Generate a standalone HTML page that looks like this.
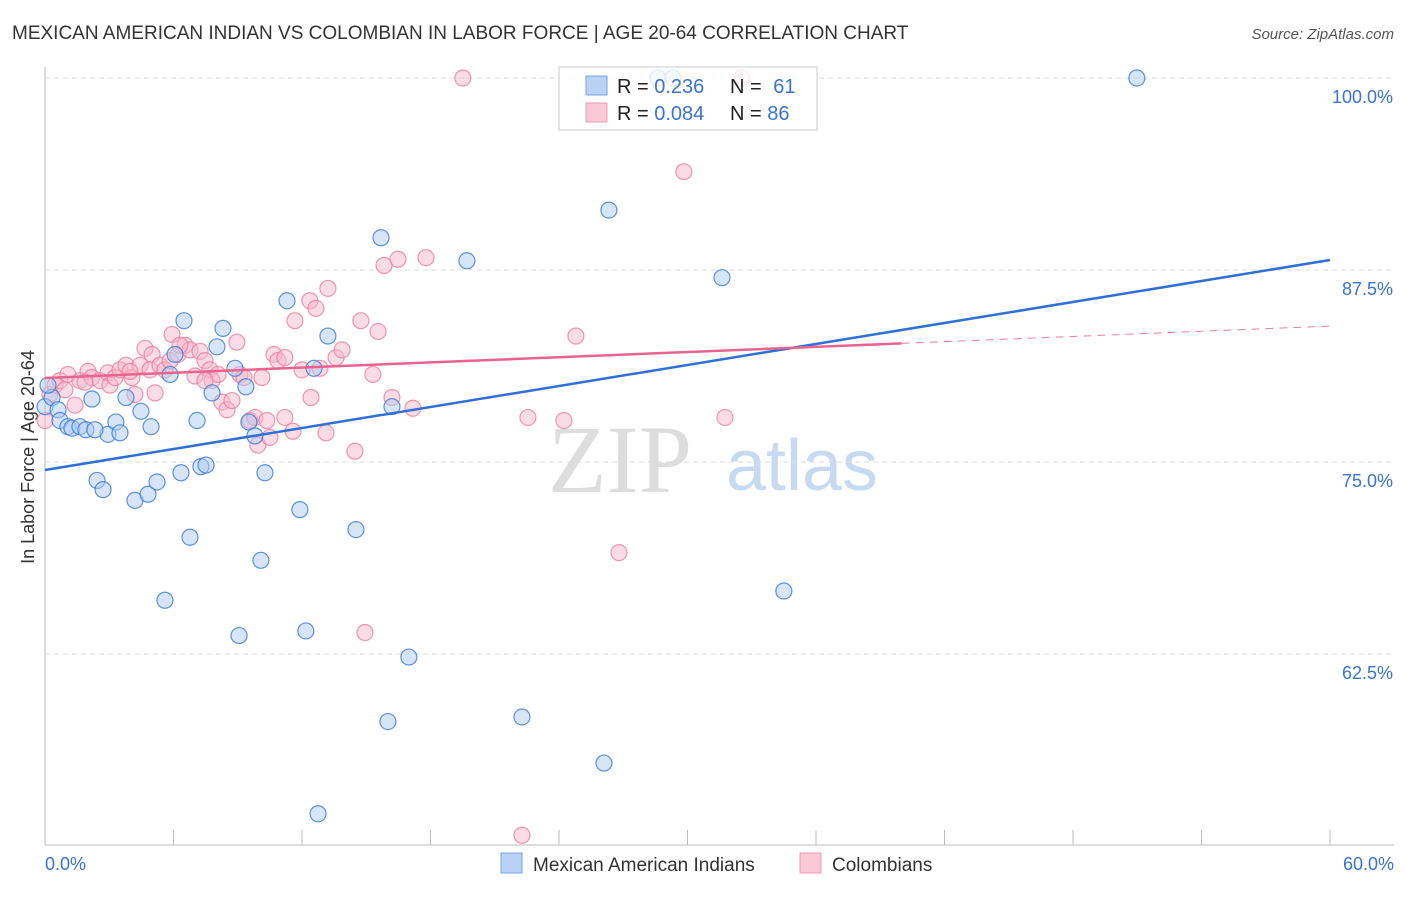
<!DOCTYPE html>
<html><head><meta charset="utf-8"><style>
body{margin:0;background:#fff;font-family:"Liberation Sans",sans-serif;}
svg text{font-family:"Liberation Sans",sans-serif;}
</style></head><body>
<svg id="chart" width="1406" height="892">
<text x="12" y="39" font-size="19" fill="#333">MEXICAN AMERICAN INDIAN VS COLOMBIAN IN LABOR FORCE | AGE 20-64 CORRELATION CHART</text>
<text x="1394" y="39" font-size="15" fill="#555" text-anchor="end" font-style="italic">Source: ZipAtlas.com</text>
<text x="34" y="457" font-size="18" fill="#333" text-anchor="middle" transform="rotate(-90 34 457)">In Labor Force | Age 20-64</text>
<text x="620" y="492" font-size="96" fill="#ddd" text-anchor="middle" style="font-family:'Liberation Serif',serif">ZIP</text>
<text x="802" y="490" font-size="72" fill="#c8daf0" text-anchor="middle">atlas</text>
<g id="grid"></g><g id="pts"></g><g id="lines"></g>
<g>
<rect x="559" y="67" width="258" height="63" fill="#fff" fill-opacity="0.8" stroke="#ccc"/>
<rect x="586" y="76" width="21" height="19" fill="#b8d3f5" stroke="#7aa6e0"/>
<rect x="586" y="103" width="21" height="19" fill="#fbc8d6" stroke="#ef9bb3"/>
<text x="617" y="93" font-size="20" fill="#222">R = <tspan fill="#3b73d1">0.236</tspan></text>
<text x="730" y="93" font-size="20" fill="#222">N = <tspan fill="#3b73d1" dx="6">61</tspan></text>
<text x="617" y="120" font-size="20" fill="#222">R = <tspan fill="#3b73d1">0.084</tspan></text>
<text x="730" y="120" font-size="20" fill="#222">N = <tspan fill="#3b73d1">86</tspan></text>
</g>
<g>
<rect x="501" y="853" width="21" height="20" fill="#b8d3f5" stroke="#7aa6e0"/>
<text x="533" y="871" font-size="19" fill="#333">Mexican American Indians</text>
<rect x="800" y="853" width="21" height="20" fill="#fbc8d6" stroke="#ef9bb3"/>
<text x="832" y="871" font-size="19" fill="#333">Colombians</text>
</g>
<text x="45" y="870" font-size="18" fill="#3b73d1">0.0%</text>
<text x="1394" y="870" font-size="18" fill="#3b73d1" text-anchor="end">60.0%</text>
</svg>
<script>
const blueX=[0,.33,.61,.7,1.07,1.26,1.63,1.91,2.19,2.43,2.71,2.94,3.31,3.5,3.78,4.2,4.48,4.81,4.95,5.23,5.6,5.84,6.07,6.35,6.49,6.77,7.1,7.28,7.52,7.8,8.03,8.31,8.87,9.06,9.38,9.52,9.8,10.08,10.27,11.3,11.9,12.18,12.56,12.75,13.21,14.52,15.69,16.01,16.2,16.99,19.7,22.27,26.1,26.33,28.62,29.32,31.61,34.5,50.98,2.33,.14];
const blueY=[78.6,79.2,78.4,77.7,77.3,77.2,77.3,77.1,79.1,73.8,73.2,76.8,77.6,76.9,79.2,72.5,78.3,72.9,77.3,73.7,66,80.7,82,74.3,84.2,70.1,77.7,74.7,74.8,79.5,82.5,83.7,81.1,63.7,79.9,77.6,76.7,68.6,74.3,85.5,71.9,64,81.1,52.1,83.2,70.6,89.6,58.1,78.6,62.3,88.1,58.4,55.4,91.4,100,100,87,66.6,100,77.1,80];
const pinkX=[0,.23,.47,.7,.93,1.07,1.4,1.63,2.01,2.19,2.57,2.94,3.03,3.27,3.5,3.78,4.06,4.2,4.44,4.67,4.9,5,5.14,5.37,5.6,5.84,5.93,6.21,6.54,6.77,7,7.24,7.47,7.7,7.8,8.08,8.26,8.5,8.96,9.1,9.29,9.57,9.8,9.94,10.13,10.36,10.5,10.69,10.88,11.2,11.2,11.67,11.58,12,12.37,12.42,12.65,12.84,13.12,13.21,13.59,13.87,14.47,14.75,14.94,15.31,15.55,15.83,16.2,16.48,17.18,17.79,19.51,22.27,22.55,24.23,24.79,26.8,29.83,31.75,32.54,1.87,3.97,6.3,7.47,8.73];
const pinkY=[77.7,79.4,80,80.3,79.7,80.7,78.7,80.3,80.9,80.5,80.3,80.8,80,80.5,81,81.3,80.5,79.4,81.3,82.4,81,82,79.5,81.3,81,81.6,83.3,82,82.6,82.3,80.6,82.2,81.6,81,80.3,80.7,78.9,78.4,82.8,80.7,80.5,77.7,77.9,76.1,80.5,77.7,76.6,82,81.6,81.8,77.9,84.2,77,81,85.5,79.2,85,81.1,76.9,86.3,81.8,82.3,75.7,84.2,63.9,80.7,83.5,87.8,79.2,88.2,78.5,88.3,100,50.7,77.9,77.7,83.2,69.1,93.9,77.9,100,80.2,80.9,82.6,80.3,79];
const yTicks=[100,87.5,75,62.5];
const yTickLabels=["100.0%","87.5%","75.0%","62.5%"];
const xTicks=[0,6,12,18,24,30,36,42,48,54,60];
const blueTrend=[74.48,88.15];
const pinkTrend=[80.47,83.85];
const pinkSolidEnd=40;
const X=v=>45+v*1285/60, Y=v=>78+(100-v)*15.36;
const NS="http://www.w3.org/2000/svg";
function mk(tag,attrs,parent){const e=document.createElementNS(NS,tag);for(const k in attrs)e.setAttribute(k,attrs[k]);parent.appendChild(e);return e;}
const grid=document.getElementById('grid'),pts=document.getElementById('pts'),lines=document.getElementById('lines');
let ax=mk('line',{x1:45,y1:67,x2:45,y2:845,stroke:'#bbb'},grid);


let bx=mk('line',{x1:45,y1:845,x2:1394,y2:845,stroke:'#bbb'},grid);


yTicks.forEach((t,i)=>{
 const g=mk('line',{x1:45,x2:1394,y1:Y(t),y2:Y(t),stroke:'#ddd','stroke-dasharray':'5,4'},grid);
 
 
 const tx=mk('text',{x:1393,y:Y(t)+25,'font-size':18,fill:'#3b73d1','text-anchor':'end'},grid);
 tx.textContent=yTickLabels[i];
 
 
});
xTicks.forEach(t=>{
 const l=mk('line',{x1:X(t),x2:X(t),y1:830,y2:845,stroke:'#bbb'},grid);
 
 
});
function dots(xs,ys,fill,stroke,name){xs.forEach((x,i)=>{
 const c=mk('circle',{cx:X(x),cy:Y(ys[i]),r:8,fill:fill,'fill-opacity':0.5,stroke:stroke,'stroke-opacity':0.8,'stroke-width':1.2},pts);
 
 
});}
dots(pinkX,pinkY,'#f8b8cb','#e8809f','colombian-point');
dots(blueX,blueY,'#aecbf2','#3b78d6','mexican-american-indian-point');
const pAt=x=>pinkTrend[0]+(pinkTrend[1]-pinkTrend[0])*x/60;
let l1=mk('line',{x1:X(0),y1:Y(blueTrend[0]),x2:X(60),y2:Y(blueTrend[1]),stroke:'#2f6fd6','stroke-width':2.5},lines);


let l2=mk('line',{x1:X(0),y1:Y(pAt(0)),x2:X(pinkSolidEnd),y2:Y(pAt(pinkSolidEnd)),stroke:'#e8648e','stroke-width':2.5},lines);


let l3=mk('line',{x1:X(pinkSolidEnd),y1:Y(pAt(pinkSolidEnd)),x2:X(60),y2:Y(pAt(60)),stroke:'#e8819f','stroke-width':1,'stroke-dasharray':'8,6'},lines);


</script>
</body></html>
